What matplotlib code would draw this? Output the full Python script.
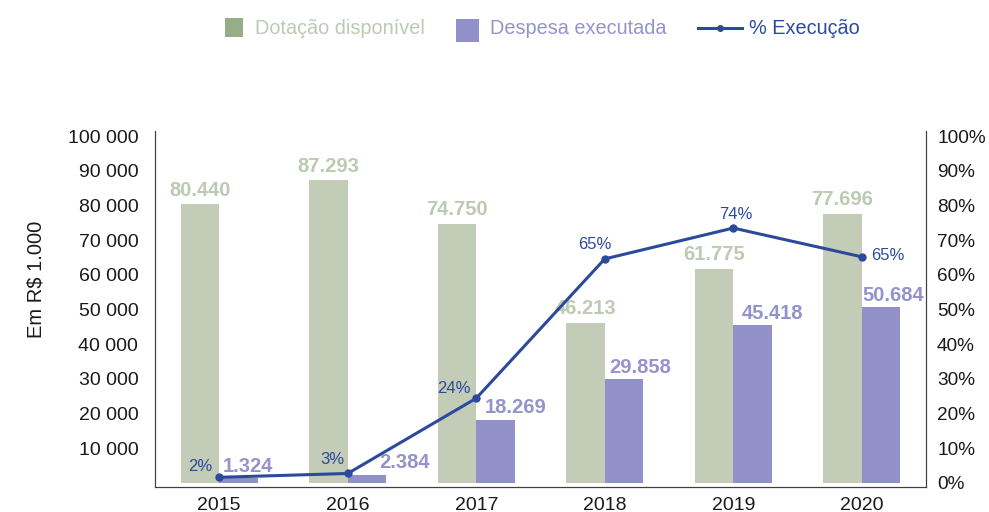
import numpy as np
import matplotlib.pyplot as plt
from matplotlib.patches import Rectangle
from matplotlib.lines import Line2D
import matplotlib.ticker as mticker

plt.rcParams["font.family"] = ["Liberation Sans", "DejaVu Sans"]

# ─── DATA ──────────────────────────────────────────────────────────────────────
anos = ["2015", "2016", "2017", "2018", "2019", "2020"]
dotacao = [80440, 87293, 74750, 46213, 61775, 77696]
despesa = [1324, 2384, 18269, 29858, 45418, 50684]
execucao = [0.016, 0.027, 0.244, 0.646, 0.735, 0.652]
pct_labels = ["2%", "3%", "24%", "65%", "74%", "65%"]

# ─── STYLE ─────────────────────────────────────────────────────────────────────
VERDE_BAR = "#c2ccb6"
VERDE_TXT = "#bccab4"
VERDE_LEG = "#97ad86"
ROXO_BAR = "#9290c8"
ROXO_TXT = "#9593cb"
AZUL = "#2b4a9b"
W, H = 989, 512
PT = 0.72  # pixels -> points at dpi 100
# label offsets in pixels
pct_off = [(-19, 11), (-15, 14), (-22, 10), (-10, 14), (3, 14), (26, 1)]
roxo_dx = [4, 31, 8, 5, 8, 1]

fig = plt.figure(figsize=(W / 100, H / 100), dpi=100)
ax = fig.add_axes([155 / W, 1 - 487 / H, 771 / W, 356 / H])
ax2 = ax.twinx()

x = np.arange(len(anos))
w = 0.30
b1 = ax.bar(x - w/2, dotacao, width=w, color=VERDE_BAR, edgecolor="none", zorder=2)
b2 = ax.bar(x + w/2, despesa, width=w, color=ROXO_BAR, edgecolor="none", zorder=2)

for bar, v in zip(b1, dotacao):
    ax.annotate(f"{v/1000:.3f}", (bar.get_x() + bar.get_width()/2, v),
                xytext=(0, 14 * PT), textcoords="offset points",
                ha="center", va="center", fontsize=14.5, fontweight="bold", color=VERDE_TXT)
for bar, v, dx in zip(b2, despesa, roxo_dx):
    ax.annotate(f"{v/1000:.3f}", (bar.get_x(), v),
                xytext=(dx * PT, 12 * PT), textcoords="offset points",
                ha="left", va="center", fontsize=14.5, fontweight="bold", color=ROXO_TXT)

ax2.plot(x, execucao, color=AZUL, linewidth=2.2, marker="o", markersize=5, zorder=3)
for xi, v, lab, (dx, dy) in zip(x, execucao, pct_labels, pct_off):
    ax2.annotate(lab, (xi, v), xytext=(dx * PT, dy * PT), textcoords="offset points",
                 ha="center", va="center", fontsize=12, color=AZUL)

ax.set_xlim(-0.5, 5.5)
ax.set_ylim(-1200, 101500)
ax2.set_ylim(-0.012, 1.015)
ax.set_yticks(np.arange(10000, 100001, 10000))
ax.yaxis.set_major_formatter(mticker.FuncFormatter(lambda v, p: f"{int(v):,}".replace(",", " ")))
ax2.set_yticks(np.arange(0, 1.01, 0.1))
ax2.yaxis.set_major_formatter(mticker.FuncFormatter(lambda v, p: f"{v:.0%}"))
ax.set_xticks(x)
ax.set_xticklabels(anos)

for a in (ax, ax2):
    a.tick_params(length=0, labelsize=14, colors="#1a1a1a")
    a.spines["top"].set_visible(False)
    for s in ("left", "right", "bottom"):
        a.spines[s].set_color("#404040")
ax.tick_params(axis="y", pad=12)
ax2.tick_params(axis="y", pad=8, labelsize=13.7)
ax.tick_params(axis="x", pad=7)
ax.set_ylabel("Em R$ 1.000", fontsize=14.5, color="#1a1a1a")
ax.yaxis.set_label_coords(-0.142, 0.584)

# ─── LEGEND (drawn by hand, items have different handle sizes) ─────────────────
def fx(px):
    return px / W

def fy(py):
    return 1 - py / H

fig.patches.append(Rectangle((fx(225), fy(37)), 18 / W, 19 / H, transform=fig.transFigure,
                             facecolor=VERDE_LEG, edgecolor="none"))
fig.text(fx(255), fy(28), "Dotação disponível", fontsize=14.3, color=VERDE_TXT, va="center")
fig.patches.append(Rectangle((fx(456), fy(42)), 23 / W, 23 / H, transform=fig.transFigure,
                             facecolor=ROXO_BAR, edgecolor="none"))
fig.text(fx(490), fy(29), "Despesa executada", fontsize=14.3, color=ROXO_TXT, va="center")
fig.lines.append(Line2D([fx(698), fx(742)], [fy(28), fy(28)], transform=fig.transFigure,
                        color=AZUL, linewidth=2.2))
fig.lines.append(Line2D([fx(720)], [fy(28)], transform=fig.transFigure,
                        color=AZUL, marker="o", markersize=4))
fig.text(fx(749), fy(29), "% Execução", fontsize=14.3, color=AZUL, va="center")

plt.savefig("out.png", dpi=100)
plt.close()
